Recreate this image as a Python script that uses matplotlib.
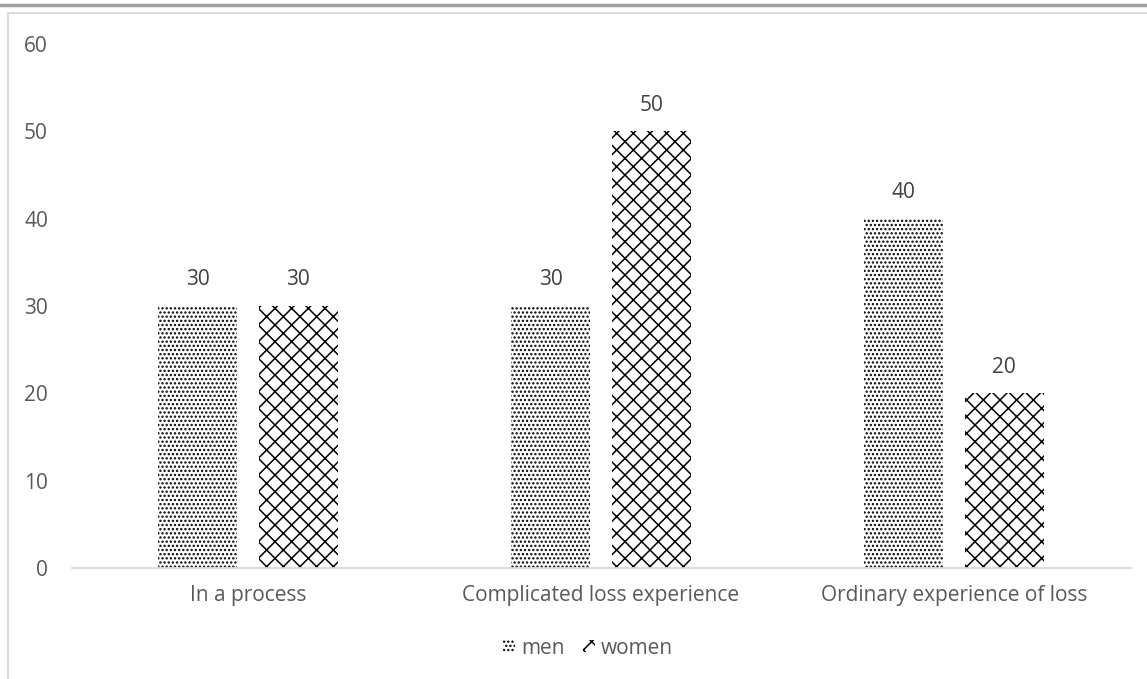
import matplotlib.pyplot as plt
import numpy as np
from matplotlib.lines import Line2D

plt.rcParams['font.family'] = ['Open Sans', 'DejaVu Sans']
plt.rcParams['hatch.linewidth'] = 1.1

categories = ['In a process', 'Complicated loss experience', 'Ordinary experience of loss']
men = [30, 30, 40]
women = [30, 50, 20]
yticks = [0, 10, 20, 30, 40, 50, 60]

W, H = 1147, 679
fig = plt.figure(figsize=(W / 100, H / 100), dpi=100)
ax = fig.add_axes([71.5 / W, 1 - 568 / H, (1130.5 - 71.5) / W, (568 - 44) / H])

x = np.arange(len(categories))
bw = 0.224
txt = '#595959'
b1 = ax.bar(x - 0.142, men, bw, color='white', edgecolor='black', hatch='....', linewidth=0, label='men')
b2 = ax.bar(x + 0.142, women, bw, color='white', edgecolor='black', hatch='xx', linewidth=0, label='women')

for bars, vals in ((b1, men), (b2, women)):
    for r, v in zip(bars, vals):
        ax.text(r.get_x() + r.get_width() / 2, v + 1.8, str(v), ha='center', va='bottom',
                fontsize=15, color='#404040')

ax.set_xlim(-0.5, 2.5)
ax.set_ylim(0, 60)
ax.set_yticks(yticks)
ax.set_xticks(x)
ax.set_xticklabels(categories)
for s in ['top', 'right', 'left']:
    ax.spines[s].set_visible(False)
ax.spines['bottom'].set_color('#d9d9d9')
ax.spines['bottom'].set_linewidth(1.3)
ax.tick_params(axis='both', length=0, labelsize=15, labelcolor=txt)
ax.tick_params(axis='y', pad=17)
ax.tick_params(axis='x', pad=12)

leg = ax.legend(loc='center', bbox_to_anchor=((588 - 71.5) / (1130.5 - 71.5), -(648 - 568) / (568 - 44)),
                ncol=2, frameon=False, fontsize=15, handlelength=0.55, handleheight=0.55,
                handletextpad=0.3, columnspacing=0.9)
for t in leg.get_texts():
    t.set_color(txt)

# outer frame lines
fig.add_artist(Line2D([0, 1], [1 - 4.5 / H, 1 - 4.5 / H], color='#a0a0a0', lw=2.5, transform=fig.transFigure))
fig.add_artist(Line2D([8 / W, 1], [1 - 13 / H, 1 - 13 / H], color='#d9d9d9', lw=1.3, transform=fig.transFigure))
fig.add_artist(Line2D([8 / W, 8 / W], [0, 1 - 13 / H], color='#d9d9d9', lw=1.3, transform=fig.transFigure))

fig.savefig('out.png', dpi=100)
